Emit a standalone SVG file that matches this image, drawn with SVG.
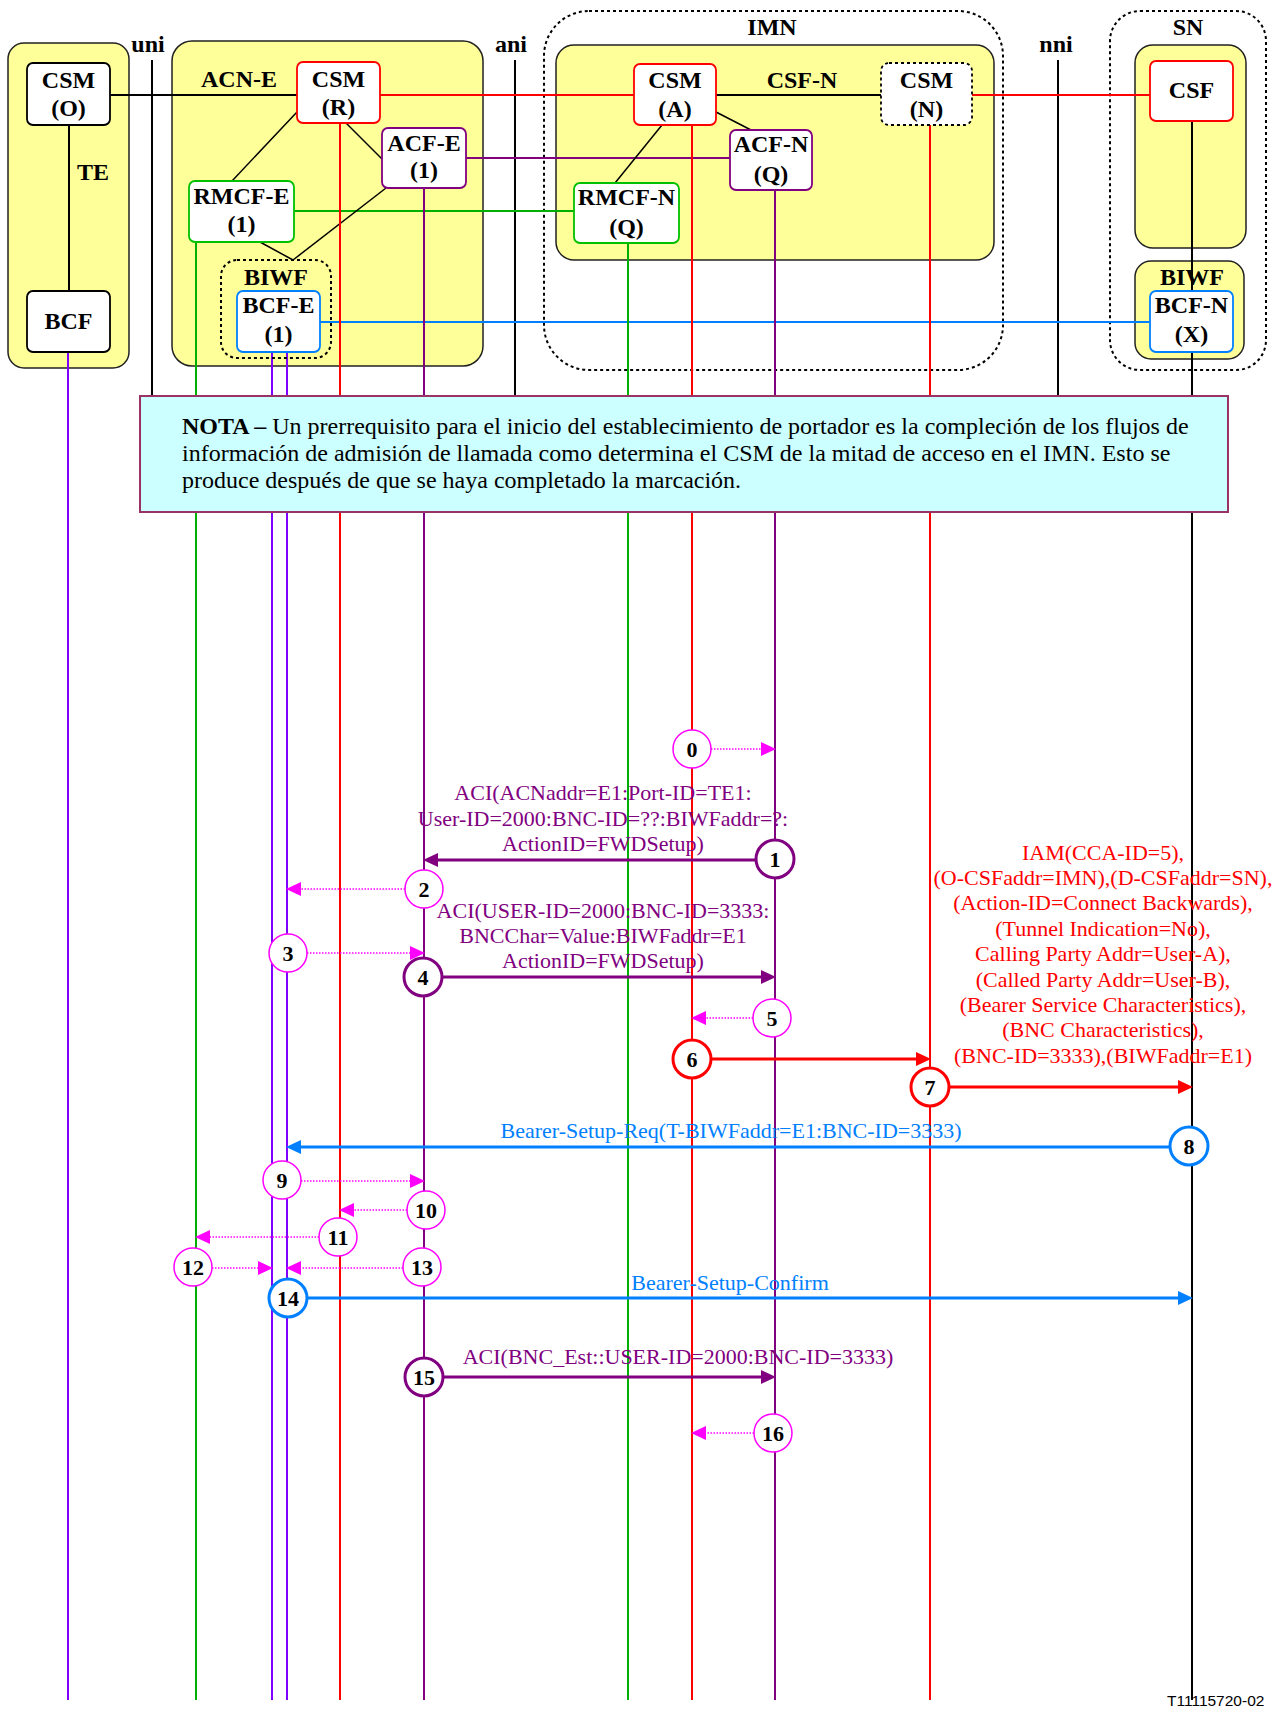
<svg xmlns="http://www.w3.org/2000/svg" width="1276" height="1712" viewBox="0 0 1276 1712">
<style>
.cont{fill:#FFFF99;stroke:#222;stroke-width:1.5}
.dot{fill:none;stroke:#000;stroke-width:2;stroke-dasharray:3 3}
.box{fill:#fff;stroke-width:1.8}
.nt{font-family:"Liberation Serif",serif;font-weight:bold;font-size:24px;text-anchor:middle;fill:#000}
.lb{font-family:"Liberation Serif",serif;font-weight:bold;font-size:24px;text-anchor:middle;fill:#000}
.msg{font-family:"Liberation Serif",serif;font-size:22px;text-anchor:middle}
.ll{stroke-width:2;fill:none}
.k{stroke:#000}.r{stroke:#FF0000}.p{stroke:#800080}.g{stroke:#00B000}.v{stroke:#8000FF}.b{stroke:#0080FF}
.arr{stroke-width:3;fill:none}
.dash{stroke:#FF00FF;stroke-width:1.5;stroke-dasharray:1.5 1.5;fill:none}
.c1{fill:#fff;stroke:#FF00FF;stroke-width:1.5}
.c3{fill:#fff;stroke-width:3}
.num{font-family:"Liberation Serif",serif;font-weight:bold;font-size:22px;text-anchor:middle;fill:#000}
.note{font-family:"Liberation Serif",serif;font-size:24px;fill:#000}
</style>
<defs>
<marker id="ap" markerUnits="userSpaceOnUse" markerWidth="15" markerHeight="14" refX="7" refY="7" orient="auto"><path d="M0,0 L15,7 L0,14 z" fill="#800080"/></marker>
<marker id="ar" markerUnits="userSpaceOnUse" markerWidth="15" markerHeight="14" refX="7" refY="7" orient="auto"><path d="M0,0 L15,7 L0,14 z" fill="#FF0000"/></marker>
<marker id="ab" markerUnits="userSpaceOnUse" markerWidth="15" markerHeight="14" refX="7" refY="7" orient="auto"><path d="M0,0 L15,7 L0,14 z" fill="#0080FF"/></marker>
<marker id="am" markerUnits="userSpaceOnUse" markerWidth="15" markerHeight="14" refX="7" refY="7" orient="auto"><path d="M0,0 L15,7 L0,14 z" fill="#FF00FF"/></marker>
</defs>
<rect width="1276" height="1712" fill="#fff"/>

<!-- containers -->
<g id="te-domain"><rect class="cont" x="8" y="43" width="121" height="325" rx="16"/><text class="lb" x="93" y="180">TE</text></g>
<g id="acn-e-domain"><rect class="cont" x="172" y="41" width="311" height="325" rx="20"/><text class="lb" x="239" y="87">ACN-E</text></g>
<g id="imn-domain"><rect class="dot" x="544" y="11" width="459" height="359" rx="45"/><text class="lb" x="772" y="35">IMN</text>
<rect class="cont" x="556" y="45" width="438" height="215" rx="18"/><text class="lb" x="802" y="88">CSF-N</text></g>
<g id="sn-domain"><rect class="dot" x="1110" y="11" width="156" height="359" rx="30"/><text class="lb" x="1188" y="35">SN</text>
<rect class="cont" x="1135" y="45" width="111" height="203" rx="18"/>
<rect class="cont" x="1135" y="261" width="109" height="98" rx="16"/><text class="lb" x="1192" y="285">BIWF</text></g>
<g id="interfaces">
<text class="lb" x="148" y="52">uni</text><text class="lb" x="511" y="52">ani</text><text class="lb" x="1056" y="52">nni</text>
</g>

<!-- connectors -->
<g id="connectors">
<line class="ll k" x1="152" y1="60" x2="152" y2="396"/>
<line class="ll k" x1="515" y1="60" x2="515" y2="396"/>
<line class="ll k" x1="1058" y1="60" x2="1058" y2="396"/>
<line class="ll k" x1="110" y1="95" x2="297" y2="95"/>
<line class="ll r" x1="380" y1="95" x2="634" y2="95"/>
<line class="ll k" x1="716" y1="95" x2="881" y2="95"/>
<line class="ll r" x1="972" y1="95" x2="1150" y2="95"/>
<line class="ll p" x1="466" y1="158" x2="730" y2="158"/>
<line class="ll g" x1="294" y1="211" x2="574" y2="211"/>
<line class="ll b" x1="320" y1="322" x2="1150" y2="322"/>
<line class="ll k" x1="69" y1="125" x2="69" y2="291"/>
<line class="ll k" x1="1192" y1="121" x2="1192" y2="291"/>
<g stroke="#000" stroke-width="1.5">
<line x1="297" y1="112" x2="232" y2="181"/>
<line x1="346" y1="123" x2="382" y2="159"/>
<line x1="386" y1="188" x2="293" y2="260"/>
<line x1="260" y1="242" x2="293" y2="260"/>
<line x1="662" y1="125" x2="615" y2="183"/>
<line x1="716" y1="112" x2="751" y2="130"/>
</g>
<!-- lifelines -->
<line class="ll v" x1="68" y1="352" x2="68" y2="1700"/>
<line class="ll g" x1="196" y1="242" x2="196" y2="1700"/>
<line class="ll v" x1="272" y1="352" x2="272" y2="1700"/>
<line class="ll v" x1="287" y1="352" x2="287" y2="1700"/>
<line class="ll r" x1="340" y1="123" x2="340" y2="1700"/>
<line class="ll p" x1="424" y1="188" x2="424" y2="1700"/>
<line class="ll g" x1="628" y1="243" x2="628" y2="1700"/>
<line class="ll r" x1="692" y1="125" x2="692" y2="1700"/>
<line class="ll p" x1="775" y1="190" x2="775" y2="1700"/>
<line class="ll r" x1="930" y1="125" x2="930" y2="1700"/>
<line class="ll k" x1="1192" y1="352" x2="1192" y2="1700"/>
</g>

<!-- nodes -->
<g id="csm-o"><rect class="box" stroke="#000" x="27" y="63" width="83" height="62" rx="6"/><text class="nt" x="68.5" y="88">CSM</text><text class="nt" x="68.5" y="116">(O)</text></g>
<g id="bcf"><rect class="box" stroke="#000" x="27" y="291" width="83" height="61" rx="6"/><text class="nt" x="68.5" y="329">BCF</text></g>
<g id="csm-r"><rect class="box" stroke="#FF0000" x="297" y="62" width="83" height="61" rx="6"/><text class="nt" x="338.5" y="87">CSM</text><text class="nt" x="338.5" y="115">(R)</text></g>
<g id="acf-e"><rect class="box" stroke="#800080" x="382" y="128" width="84" height="60" rx="6"/><text class="nt" x="424" y="151">ACF-E</text><text class="nt" x="424" y="178">(1)</text></g>
<g id="rmcf-e"><rect class="box" stroke="#00C000" x="189" y="181" width="105" height="61" rx="6"/><text class="nt" x="241.5" y="204">RMCF-E</text><text class="nt" x="241.5" y="232">(1)</text></g>
<g id="biwf-e"><rect class="dot" x="221" y="260" width="110" height="98" rx="16"/><text class="lb" x="276" y="285">BIWF</text></g>
<g id="bcf-e"><rect class="box" stroke="#0080FF" x="237" y="291" width="83" height="61" rx="6"/><text class="nt" x="278.5" y="313">BCF-E</text><text class="nt" x="278.5" y="342">(1)</text></g>
<g id="csm-a"><rect class="box" stroke="#FF0000" x="634" y="64" width="82" height="61" rx="6"/><text class="nt" x="675" y="88">CSM</text><text class="nt" x="675" y="117">(A)</text></g>
<g id="csm-n"><rect class="box" stroke="#000" stroke-dasharray="3 3" stroke-width="2" x="881" y="63" width="91" height="62" rx="8"/><text class="nt" x="926.5" y="88">CSM</text><text class="nt" x="926.5" y="117">(N)</text></g>
<g id="acf-n"><rect class="box" stroke="#800080" x="730" y="130" width="82" height="60" rx="6"/><text class="nt" x="771" y="152">ACF-N</text><text class="nt" x="771" y="182">(Q)</text></g>
<g id="rmcf-n"><rect class="box" stroke="#00C000" x="574" y="183" width="105" height="60" rx="6"/><text class="nt" x="626.5" y="205">RMCF-N</text><text class="nt" x="626.5" y="235">(Q)</text></g>
<g id="csf"><rect class="box" stroke="#FF0000" x="1150" y="61" width="83" height="60" rx="6"/><text class="nt" x="1191.5" y="98">CSF</text></g>
<g id="bcf-n"><rect class="box" stroke="#0080FF" x="1150" y="291" width="83" height="61" rx="6"/><text class="nt" x="1191.5" y="313">BCF-N</text><text class="nt" x="1191.5" y="342">(X)</text></g>

<!-- note -->
<g id="nota">
<rect x="140" y="396" width="1088" height="116" fill="#CCFFFF" stroke="#993366" stroke-width="2"/>
<text class="note">
<tspan x="182" y="434"><tspan font-weight="bold">NOTA –</tspan> Un prerrequisito para el inicio del establecimiento de portador es la compleción de los flujos de</tspan>
<tspan x="182" y="461">información de admisión de llamada como determina el CSM de la mitad de acceso en el IMN. Esto se</tspan>
<tspan x="182" y="488">produce después de que se haya completado la marcación.</tspan>
</text>
</g>

<!-- messages -->
<g id="messages">
<line class="dash" x1="711" y1="749" x2="768" y2="749" marker-end="url(#am)"/>
<line class="arr p" x1="756" y1="860" x2="431" y2="860" marker-end="url(#ap)"/>
<text class="msg" fill="#800080"><tspan x="603" y="800">ACI(ACNaddr=E1:Port-ID=TE1:</tspan><tspan x="603" y="826">User-ID=2000:BNC-ID=??:BIWFaddr=?:</tspan><tspan x="603" y="851">ActionID=FWDSetup)</tspan></text>
<line class="dash" x1="405" y1="889" x2="294" y2="889" marker-end="url(#am)"/>
<line class="dash" x1="307" y1="953" x2="417" y2="953" marker-end="url(#am)"/>
<line class="arr p" x1="442" y1="977" x2="768" y2="977" marker-end="url(#ap)"/>
<text class="msg" fill="#800080"><tspan x="603" y="918">ACI(USER-ID=2000:BNC-ID=3333:</tspan><tspan x="603" y="943">BNCChar=Value:BIWFaddr=E1</tspan><tspan x="603" y="968">ActionID=FWDSetup)</tspan></text>
<line class="dash" x1="753" y1="1018" x2="699" y2="1018" marker-end="url(#am)"/>
<line class="arr r" x1="711" y1="1059" x2="923" y2="1059" marker-end="url(#ar)"/>
<line class="arr r" x1="949" y1="1087" x2="1185" y2="1087" marker-end="url(#ar)"/>
<text class="msg" fill="#FF0000"><tspan x="1103" y="860">IAM(CCA-ID=5),</tspan><tspan x="1103" y="885">(O-CSFaddr=IMN),(D-CSFaddr=SN),</tspan><tspan x="1103" y="910">(Action-ID=Connect Backwards),</tspan><tspan x="1103" y="936">(Tunnel Indication=No),</tspan><tspan x="1103" y="961">Calling Party Addr=User-A),</tspan><tspan x="1103" y="987">(Called Party Addr=User-B),</tspan><tspan x="1103" y="1012">(Bearer Service Characteristics),</tspan><tspan x="1103" y="1037">(BNC Characteristics),</tspan><tspan x="1103" y="1063">(BNC-ID=3333),(BIWFaddr=E1)</tspan></text>
<line class="arr b" x1="1170" y1="1147" x2="294" y2="1147" marker-end="url(#ab)"/>
<text class="msg" fill="#0080FF" x="731" y="1138">Bearer-Setup-Req(T-BIWFaddr=E1:BNC-ID=3333)</text>
<line class="dash" x1="301" y1="1181" x2="417" y2="1181" marker-end="url(#am)"/>
<line class="dash" x1="407" y1="1210" x2="347" y2="1210" marker-end="url(#am)"/>
<line class="dash" x1="319" y1="1237" x2="203" y2="1237" marker-end="url(#am)"/>
<line class="dash" x1="212" y1="1268" x2="265" y2="1268" marker-end="url(#am)"/>
<line class="dash" x1="403" y1="1268" x2="294" y2="1268" marker-end="url(#am)"/>
<line class="arr b" x1="307" y1="1298" x2="1185" y2="1298" marker-end="url(#ab)"/>
<text class="msg" fill="#0080FF" x="730" y="1290">Bearer-Setup-Confirm</text>
<line class="arr p" x1="443" y1="1377" x2="768" y2="1377" marker-end="url(#ap)"/>
<text class="msg" fill="#800080" x="678" y="1364">ACI(BNC_Est::USER-ID=2000:BNC-ID=3333)</text>
<line class="dash" x1="754" y1="1433" x2="699" y2="1433" marker-end="url(#am)"/>
</g>

<!-- steps -->
<g id="steps">
<g id="s0"><circle class="c1" cx="692" cy="749" r="19"/><text class="num" x="692" y="757">0</text></g>
<g id="s1"><circle class="c3" stroke="#800080" cx="775" cy="859" r="19"/><text class="num" x="775" y="867">1</text></g>
<g id="s2"><circle class="c1" cx="424" cy="889" r="19"/><text class="num" x="424" y="897">2</text></g>
<g id="s3"><circle class="c1" cx="288" cy="953" r="19"/><text class="num" x="288" y="961">3</text></g>
<g id="s4"><circle class="c3" stroke="#800080" cx="423" cy="977" r="19"/><text class="num" x="423" y="985">4</text></g>
<g id="s5"><circle class="c1" cx="772" cy="1018" r="19"/><text class="num" x="772" y="1026">5</text></g>
<g id="s6"><circle class="c3" stroke="#FF0000" cx="692" cy="1059" r="19"/><text class="num" x="692" y="1067">6</text></g>
<g id="s7"><circle class="c3" stroke="#FF0000" cx="930" cy="1087" r="19"/><text class="num" x="930" y="1095">7</text></g>
<g id="s8"><circle class="c3" stroke="#0080FF" cx="1189" cy="1146" r="19"/><text class="num" x="1189" y="1154">8</text></g>
<g id="s9"><circle class="c1" cx="282" cy="1180" r="19"/><text class="num" x="282" y="1188">9</text></g>
<g id="s10"><circle class="c1" cx="426" cy="1210" r="19"/><text class="num" x="426" y="1218">10</text></g>
<g id="s11"><circle class="c1" cx="338" cy="1237" r="19"/><text class="num" x="338" y="1245">11</text></g>
<g id="s12"><circle class="c1" cx="193" cy="1267" r="19"/><text class="num" x="193" y="1275">12</text></g>
<g id="s13"><circle class="c1" cx="422" cy="1267" r="19"/><text class="num" x="422" y="1275">13</text></g>
<g id="s14"><circle class="c3" stroke="#0080FF" cx="288" cy="1298" r="19"/><text class="num" x="288" y="1306">14</text></g>
<g id="s15"><circle class="c3" stroke="#800080" cx="424" cy="1377" r="19"/><text class="num" x="424" y="1385">15</text></g>
<g id="s16"><circle class="c1" cx="773" cy="1433" r="19"/><text class="num" x="773" y="1441">16</text></g>
</g>

<text x="1167" y="1706" font-family="'Liberation Sans',Arial,sans-serif" font-size="15.5" fill="#000">T11115720-02</text>
</svg>
